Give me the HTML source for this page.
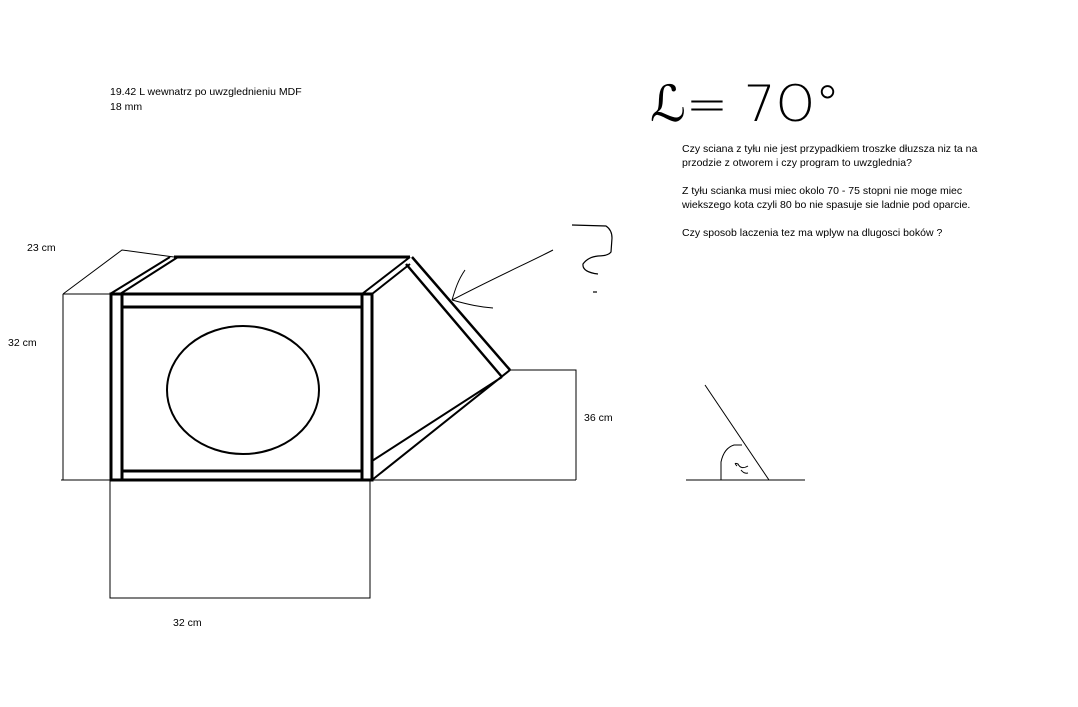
<!DOCTYPE html>
<html><head><meta charset="utf-8"><style>
html,body{margin:0;padding:0;background:#fff;width:1078px;height:707px;overflow:hidden}
svg{display:block}
text{font-family:"Liberation Sans",sans-serif;font-size:10.5px;fill:#000}
</style></head><body>
<svg width="1078" height="707" viewBox="0 0 1078 707" xmlns="http://www.w3.org/2000/svg">
<g fill="none" stroke="#000">
 <path d="M63 294 H110 M63 294 V480 M63 294 L122 250 L174 257" stroke-width="1"/>
 <path d="M61 480 H576" stroke-width="1"/>
 <path d="M110 480 V598 H370 V480" stroke-width="1"/>
 <rect x="111" y="294" width="261" height="186" stroke-width="3"/>
 <path d="M122 294 V480 M362 294 V480 M122 307 H362 M122 471 H362" stroke-width="3"/>
 <path d="M174 257 H410" stroke-width="3"/>
 <path d="M110 294 L170 257 M120 294 L178 257 M362 294 L410 257 M372 294 L410 264" stroke-width="2"/>
 <path d="M412 257 L510 370 M406 264 L502 377" stroke-width="2.5"/>
 <path d="M510 370 L372 480 M502 377 L372 461" stroke-width="2"/>
 <path d="M510 370 H576 V480" stroke-width="1"/>
 <ellipse cx="243" cy="390" rx="76" ry="64" stroke-width="2"/>
 <path d="M553 250 C530 262 500 275 452 300 M452 300 C455 290 458 280 465 270 M452 300 C470 305 480 307 493 308" stroke-width="1"/>
 <path d="M572 225 L606 226 Q612 230 612 238 L611 252 Q608 256 598 256 Q588 257 583 264 Q582 272 598 274" stroke-width="1.2"/>
 <path d="M593 292 H597" stroke-width="1.2"/>
 <path d="M686 480 H805 M705 385 L769 480" stroke-width="1"/>
 <path d="M721 480 L721 462 Q724 448 734 445 L742 445" stroke-width="1"/>
 <path d="M737 466 Q733 462 738 464 Q741 470 748 466 M741 470 Q744 474 748 473" stroke-width="1"/>
</g>
<text x="110" y="95">19.42 L wewnatrz po uwzglednieniu MDF</text>
<text x="110" y="110">18 mm</text>
<text x="27" y="251">23 cm</text>
<text x="8" y="346">32 cm</text>
<text x="584" y="421">36 cm</text>
<text x="173" y="626">32 cm</text>
<text x="650" y="121" style="font-family:'DejaVu Sans',sans-serif;font-size:50px;font-weight:200" fill="#000">ℒ= 7O°</text>
<text x="682" y="152">Czy sciana z tyłu nie jest przypadkiem troszke dłuzsza niz ta na</text>
<text x="682" y="166">przodzie z otworem i czy program to uwzglednia?</text>
<text x="682" y="194">Z tyłu scianka musi miec okolo 70 - 75 stopni nie moge miec</text>
<text x="682" y="208">wiekszego kota czyli 80 bo nie spasuje sie ladnie pod oparcie.</text>
<text x="682" y="236">Czy sposob laczenia tez ma wplyw na dlugosci boków ?</text>
</svg>
</body></html>
